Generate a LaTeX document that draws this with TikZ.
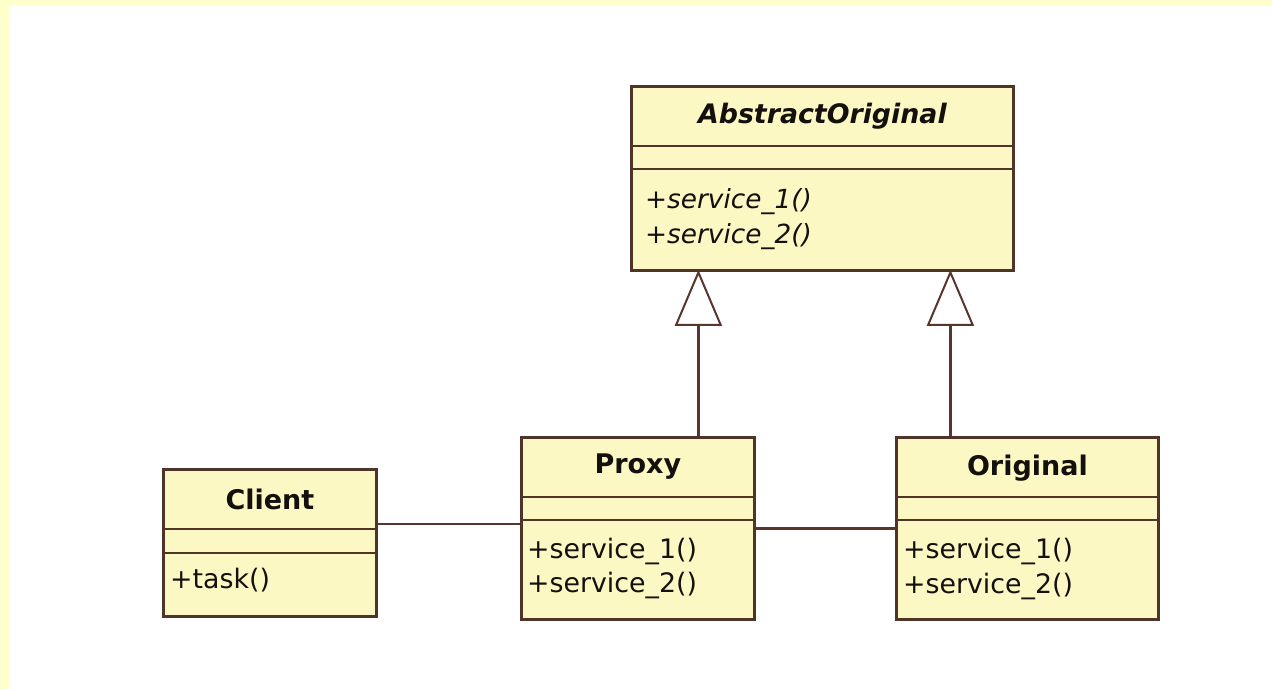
\documentclass[tikz,border=0pt]{standalone}
\usepackage{fontspec}
\setmainfont{DejaVu Sans}
\usetikzlibrary{arrows.meta}
\definecolor{pagebg}{RGB}{255,255,204}
\definecolor{clsfill}{RGB}{252,248,196}
\definecolor{clsdraw}{RGB}{80,52,40}
\definecolor{linkcol}{RGB}{88,54,46}
\definecolor{ink}{RGB}{20,16,14}
\tikzset{
  cls/.style={draw=clsdraw, fill=clsfill, line width=2.8pt, anchor=north west, inner sep=0pt},
  sep/.style={draw=clsdraw, line width=2.8pt},
  clstitle/.style={font=\fontsize{27}{32}\selectfont\bfseries, text=ink, inner sep=0pt},
  abstitle/.style={font=\fontsize{26.8}{32}\selectfont\bfseries\itshape, text=ink, inner sep=0pt},
  member/.style={font=\fontsize{26.8}{32}\selectfont, text=ink, anchor=west, inner sep=0pt},
  absmember/.style={font=\fontsize{26.3}{32}\selectfont\itshape, text=ink, anchor=west, inner sep=0pt},
  assoc/.style={draw=linkcol, line width=2.6pt},
  gen/.style={draw=linkcol, line width=2.6pt, shorten >=-2pt,
    -{Triangle[open, length=56pt, width=47pt, line width=2pt]}}
}
\begin{document}
\begin{tikzpicture}[x=1pt, y=-1pt]
\useasboundingbox (0,0) rectangle (1272,689);
\fill[white] (0,0) rectangle (1272,689);
\fill[pagebg] (0,0) rectangle (1272,6);
\fill[pagebg] (0,0) rectangle (9,689);

% class boxes
\node[cls, minimum width=382pt, minimum height=184pt] (abstract) at (630,85) {};
\node[cls, minimum width=213pt, minimum height=147pt] (client) at (162,468) {};
\node[cls, minimum width=233pt, minimum height=182pt] (proxy) at (520,436) {};
\node[cls, minimum width=262pt, minimum height=182pt] (original) at (895,436) {};

% compartment separators
\draw[sep] ([yshift=-61pt]abstract.north west) -- ([yshift=-61pt]abstract.north east);
\draw[sep] ([yshift=-84pt]abstract.north west) -- ([yshift=-84pt]abstract.north east);
\draw[sep] ([yshift=-61pt]client.north west) -- ([yshift=-61pt]client.north east);
\draw[sep] ([yshift=-85pt]client.north west) -- ([yshift=-85pt]client.north east);
\draw[sep] ([yshift=-61pt]proxy.north west) -- ([yshift=-61pt]proxy.north east);
\draw[sep] ([yshift=-84pt]proxy.north west) -- ([yshift=-84pt]proxy.north east);
\draw[sep] ([yshift=-61pt]original.north west) -- ([yshift=-61pt]original.north east);
\draw[sep] ([yshift=-84pt]original.north west) -- ([yshift=-84pt]original.north east);

% class names
\node[abstitle] (abstract-t) at ([yshift=-31pt]abstract.north) {AbstractOriginal};
\node[clstitle] (client-t) at ([yshift=-31pt]client.north) {Client};
\node[clstitle] (proxy-t) at ([yshift=-31pt]proxy.north) {Proxy};
\node[clstitle] (original-t) at ([yshift=-32pt]original.north) {Original};

% operations
\node[absmember] (abstract-m1) at ([xshift=15pt, yshift=-117pt]abstract.north west) {+service\_1()};
\node[absmember] (abstract-m2) at ([xshift=15pt, yshift=-152pt]abstract.north west) {+service\_2()};
\node[member] (client-m1) at ([xshift=8pt, yshift=-112pt]client.north west) {+task()};
\node[member] (proxy-m1) at ([xshift=7pt, yshift=-115pt]proxy.north west) {+service\_1()};
\node[member] (proxy-m2) at ([xshift=7pt, yshift=-149pt]proxy.north west) {+service\_2()};
\node[member] (original-m1) at ([xshift=8pt, yshift=-115pt]original.north west) {+service\_1()};
\node[member] (original-m2) at ([xshift=8pt, yshift=-150pt]original.north west) {+service\_2()};

% associations
\draw[assoc] ([yshift=-56pt]client.north east) -- ([yshift=-56pt]client.north east -| proxy.west);
\draw[assoc] (proxy.east) -- (proxy.east -| original.west);

% generalizations
\draw[gen] ([xshift=60.5pt]proxy.north) -- ([xshift=60.5pt]proxy.north |- abstract.south);
\draw[gen] ([xshift=-77pt]original.north) -- ([xshift=-77pt]original.north |- abstract.south);
\end{tikzpicture}
\end{document}
